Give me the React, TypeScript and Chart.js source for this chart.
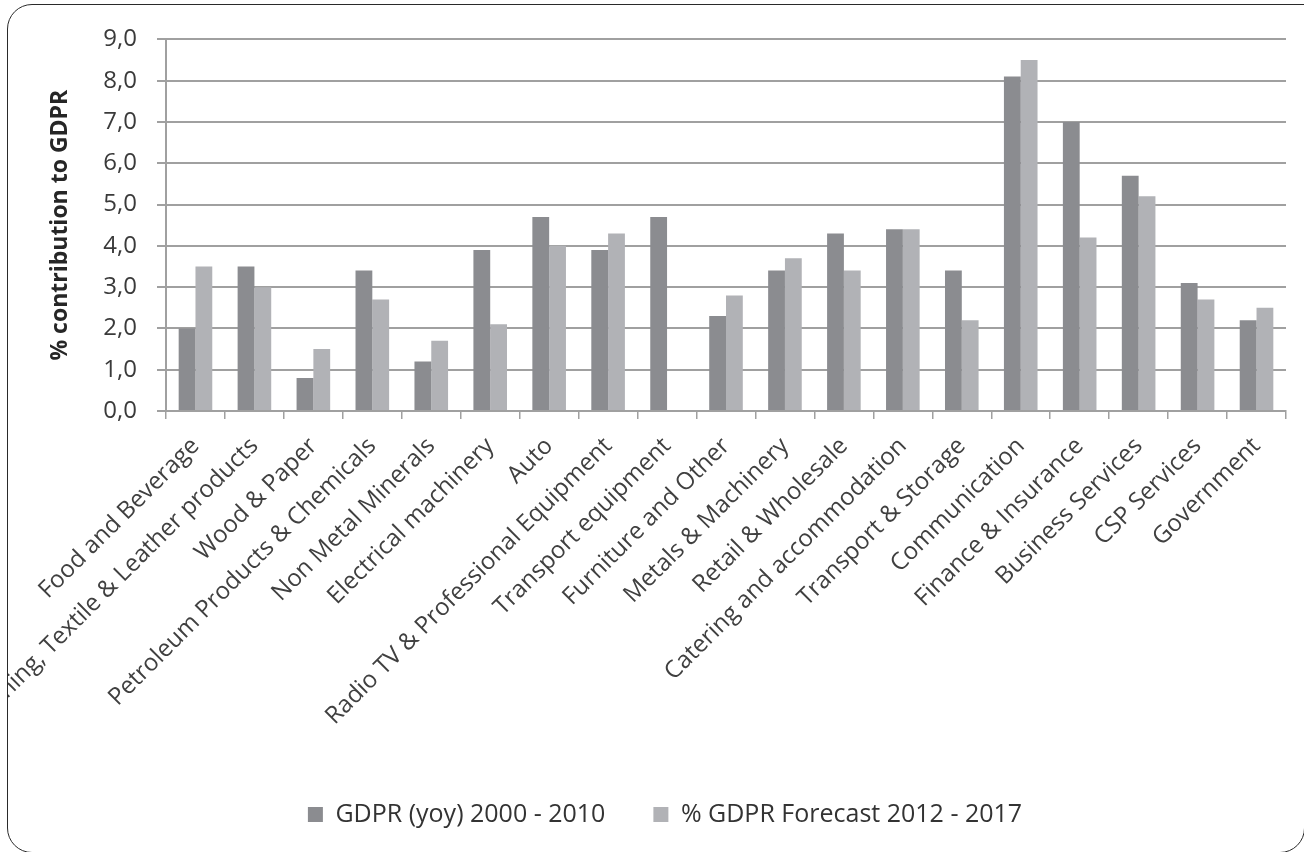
import React, { useEffect, useRef } from "react";
import { Chart, registerables } from "chart.js";

Chart.register(...registerables);

const categories = [
  "Food and Beverage",
  "Clothing, Textile & Leather products",
  "Wood & Paper",
  "Petroleum Products & Chemicals",
  "Non Metal Minerals",
  "Electrical machinery",
  "Auto",
  "Radio TV & Professional Equipment",
  "Transport equipment",
  "Furniture and Other",
  "Metals & Machinery",
  "Retail & Wholesale",
  "Catering and accommodation",
  "Transport & Storage",
  "Communication",
  "Finance & Insurance",
  "Business Services",
  "CSP Services",
  "Government",
];

const gdprYoy = [2.0, 3.5, 0.8, 3.4, 1.2, 3.9, 4.7, 3.9, 4.7, 2.3, 3.4, 4.3, 4.4, 3.4, 8.1, 7.0, 5.7, 3.1, 2.2];
const gdprForecast = [3.5, 3.0, 1.5, 2.7, 1.7, 2.1, 4.0, 4.3, null, 2.8, 3.7, 3.4, 4.4, 2.2, 8.5, 4.2, 5.2, 2.7, 2.5];

const seriesNames = ["GDPR (yoy) 2000 - 2010", "% GDPR Forecast 2012 - 2017"];
const yAxisTitle = "% contribution to GDPR";
const yMin = 0;
const yMax = 9;
const yStep = 1;

const FONT = "'Open Sans', sans-serif";
const GRID = "#a0a0a0";

export default function App() {
  const canvasRef = useRef<HTMLCanvasElement | null>(null);

  useEffect(() => {
    const canvas = canvasRef.current;
    if (!canvas) return;
    const chart = new Chart(canvas, {
      type: "bar",
      data: {
        labels: categories,
        datasets: [
          {
            label: seriesNames[0],
            data: gdprYoy,
            backgroundColor: "#8b8c90",
            borderWidth: 0,
          },
          {
            label: seriesNames[1],
            data: gdprForecast,
            backgroundColor: "#b1b2b6",
            borderWidth: 0,
          },
        ],
      },
      options: {
        animation: false,
        responsive: false,
        maintainAspectRatio: false,
        layout: { padding: { top: 29, right: 17, bottom: 15, left: 36 } },
        datasets: {
          bar: { barPercentage: 1, categoryPercentage: 0.57 },
        },
        plugins: {
          tooltip: { enabled: false },
          legend: {
            position: "bottom",
            labels: {
              boxWidth: 15,
              boxHeight: 15,
              padding: 48,
              color: "#333333",
              font: { family: FONT, size: 25 },
            },
          },
        },
        scales: {
          x: {
            grid: {
              offset: true,
              drawOnChartArea: false,
              drawTicks: true,
              tickLength: 8,
              color: GRID,
              lineWidth: 1.5,
            },
            border: { display: true, color: GRID, width: 2 },
            ticks: {
              autoSkip: false,
              minRotation: 45,
              maxRotation: 45,
              padding: 13,
              color: "#404040",
              font: { family: FONT, size: 24 },
            },
            afterFit: (scale: any) => {
              scale.height = 343;
            },
          },
          y: {
            min: yMin,
            max: yMax,
            ticks: {
              stepSize: yStep,
              padding: 20,
              color: "#3a3a3a",
              font: { family: FONT, size: 24 },
              callback: (v: any) => Number(v).toFixed(1).replace(".", ","),
            },
            grid: {
              color: GRID,
              lineWidth: 2,
              tickLength: 9,
              drawTicks: true,
            },
            border: { display: true, color: GRID, width: 2 },
            title: {
              display: true,
              text: yAxisTitle,
              color: "#262626",
              font: { family: FONT, size: 23, weight: "bold" },
              padding: { top: 3, bottom: 0 },
            },
            afterFit: (scale: any) => {
              scale.width = 122;
            },
          },
        },
      },
    });
    return () => chart.destroy();
  }, []);

  return (
    <div
      style={{
        position: "fixed",
        left: 0,
        top: 0,
        width: 1304,
        height: 852,
        overflow: "hidden",
        background: "#ffffff",
      }}
    >
      <div
        style={{
          position: "absolute",
          left: 7,
          top: 4,
          width: 1298,
          height: 849,
          boxSizing: "border-box",
          border: "1.5px solid #2a2a2a",
          borderRadius: "25px 0 25px 25px",
          overflow: "hidden",
        }}
      >
        <canvas
          ref={canvasRef}
          width={1295}
          height={847}
          style={{ position: "absolute", left: 0, top: 0, width: 1295, height: 847 }}
        />
      </div>
    </div>
  );
}
